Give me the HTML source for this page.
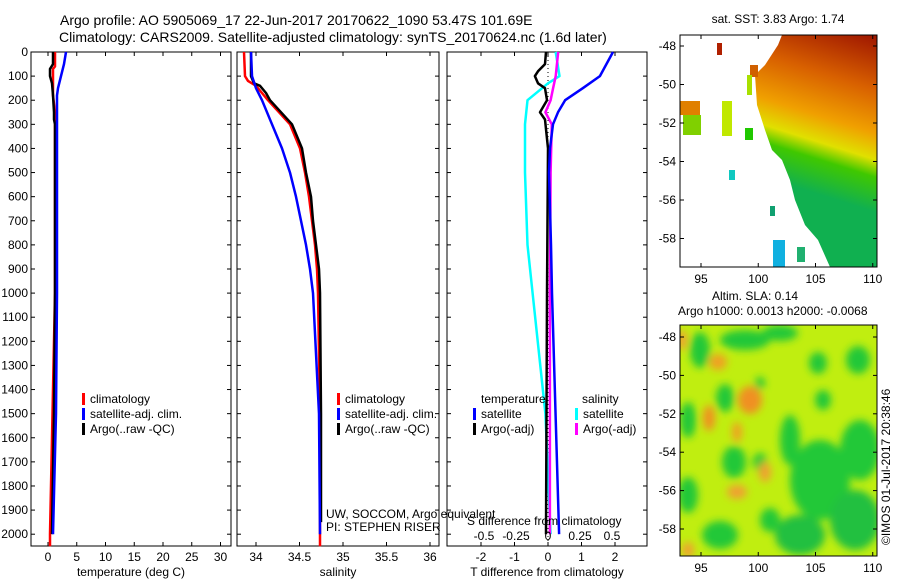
<!DOCTYPE html>
<html><head><meta charset="utf-8">
<style>
html,body{margin:0;padding:0;background:#fff;}
svg{display:block;font-family:"Liberation Sans",Helvetica,Arial,sans-serif;}
text{fill:#000;}
</style></head>
<body>
<svg id="chart" width="900" height="580" viewBox="0 0 900 580" xmlns="http://www.w3.org/2000/svg">
<defs>
  <linearGradient id="sstGrad" gradientUnits="userSpaceOnUse" x1="870" y1="35" x2="820" y2="195">
    <stop offset="0" stop-color="#a01800"/>
    <stop offset="0.3" stop-color="#d86000"/>
    <stop offset="0.55" stop-color="#f0a000"/>
    <stop offset="0.7" stop-color="#e0e000"/>
    <stop offset="0.8" stop-color="#40c800"/>
    <stop offset="1" stop-color="#10b050"/>
  </linearGradient>
  <clipPath id="topClip"><rect x="680" y="35" width="197" height="232"/></clipPath>
  <clipPath id="botClip"><rect x="680" y="325" width="197" height="231"/></clipPath>
  <filter id="blur" x="-20%" y="-20%" width="140%" height="140%"><feGaussianBlur stdDeviation="4"/></filter>
</defs>
<g id="title">
  <text x="60" y="25" font-size="14">Argo profile: AO 5905069_17 22-Jun-2017 20170622_1090 53.47S 101.69E</text>
  <text x="59" y="42" font-size="14">Climatology: CARS2009. Satellite-adjusted climatology: synTS_20170624.nc (1.6d later)</text>
</g>
<g id="panels"></g>
<g id="maps">
  <g>
    <text x="778" y="23" font-size="12" text-anchor="middle">sat. SST: 3.83  Argo: 1.74</text>
    <g clip-path="url(#topClip)">
      <polygon points="782,35 877,35 877,267 830,267 818,240 805,225 795,200 790,180 782,160 772,150 765,130 757,105 755,75 765,65 778,45" fill="url(#sstGrad)"/>
      <rect x="717" y="43" width="5" height="12" fill="#b02000"/>
      <rect x="680" y="101" width="20" height="14" fill="#e08000"/>
      <rect x="683" y="115" width="18" height="20" fill="#80d000"/>
      <rect x="722" y="101" width="10" height="35" fill="#c0e800"/>
      <rect x="745" y="128" width="8" height="12" fill="#20c800"/>
      <rect x="729" y="170" width="6" height="10" fill="#10c8c0"/>
      <rect x="773" y="240" width="12" height="27" fill="#10b0e0"/>
      <rect x="797" y="247" width="8" height="15" fill="#20b070"/>
      <rect x="770" y="206" width="5" height="10" fill="#10a070"/>
      <rect x="750" y="65" width="8" height="12" fill="#d06000"/>
      <rect x="747" y="75" width="5" height="20" fill="#a8e000"/>
    </g>
    <rect x="680" y="35" width="197" height="232" fill="none" stroke="#000" stroke-width="1"/>
    <g id="topAxis"></g>
  </g>
  <text x="712" y="300" font-size="12">Altim. SLA: 0.14</text>
  <text x="678" y="315" font-size="12">Argo h1000: 0.0013 h2000: -0.0068</text>
  <g>
    <g clip-path="url(#botClip)">
      <rect x="680" y="325" width="197" height="231" fill="#c0ee10"/>
      <g filter="url(#blur)">
        <ellipse cx="820" cy="480" rx="30" ry="40" fill="#20c838"/>
        <ellipse cx="860" cy="450" rx="20" ry="30" fill="#20c838"/>
        <ellipse cx="855" cy="520" rx="25" ry="30" fill="#20c040"/>
        <ellipse cx="800" cy="535" rx="25" ry="20" fill="#20c040"/>
        <ellipse cx="790" cy="440" rx="10" ry="25" fill="#20c838"/>
        <ellipse cx="700" cy="350" rx="10" ry="18" fill="#20c838"/>
        <ellipse cx="745" cy="340" rx="25" ry="10" fill="#20c838"/>
        <ellipse cx="780" cy="333" rx="18" ry="8" fill="#20c838"/>
        <ellipse cx="818" cy="363" rx="9" ry="11" fill="#20c838"/>
        <ellipse cx="858" cy="360" rx="12" ry="14" fill="#20c838"/>
        <ellipse cx="725" cy="398" rx="9" ry="14" fill="#20c838"/>
        <ellipse cx="760" cy="383" rx="5" ry="6" fill="#20c838"/>
        <ellipse cx="823" cy="400" rx="8" ry="10" fill="#20c838"/>
        <ellipse cx="734" cy="462" rx="12" ry="16" fill="#20c838"/>
        <ellipse cx="688" cy="420" rx="8" ry="18" fill="#20c838"/>
        <ellipse cx="688" cy="495" rx="10" ry="18" fill="#20c838"/>
        <ellipse cx="720" cy="535" rx="18" ry="14" fill="#20c838"/>
        <ellipse cx="760" cy="462" rx="7" ry="9" fill="#20c838"/>
        <ellipse cx="770" cy="520" rx="10" ry="12" fill="#20c838"/>
        <ellipse cx="718" cy="362" rx="9" ry="8" fill="#f0a020"/>
        <ellipse cx="750" cy="400" rx="12" ry="14" fill="#f09020"/>
        <ellipse cx="709" cy="418" rx="6" ry="13" fill="#f09020"/>
        <ellipse cx="737" cy="432" rx="5" ry="10" fill="#f0a020"/>
        <ellipse cx="765" cy="472" rx="6" ry="10" fill="#f0a030"/>
        <ellipse cx="737" cy="492" rx="10" ry="7" fill="#f0a030"/>
        <ellipse cx="688" cy="550" rx="6" ry="8" fill="#f0a030"/>
        <ellipse cx="682" cy="340" rx="5" ry="10" fill="#f0a030"/>
      </g>
    </g>
    <rect x="680" y="325" width="197" height="231" fill="none" stroke="#000" stroke-width="1"/>
    <g id="botAxis"></g>
  </g>
  <text transform="translate(890,545) rotate(-90)" font-size="12">©IMOS 01-Jul-2017 20:38:46</text>
</g>
</svg>
<script>
// ---- data ----
const depthTicks = [0,100,200,300,400,500,600,700,800,900,1000,1100,1200,1300,1400,1500,1600,1700,1800,1900,2000];
const tempTicks = [0,5,10,15,20,25,30];
const salTicks = [34,34.5,35,35.5,36];
const tdiffTicks = [-2,-1,0,1,2];
const sdiffTicks = [-0.5,-0.25,0,0.25,0.5];
const latTicks = [-48,-50,-52,-54,-56,-58];
const lonTicks = [95,100,105,110];

const tArgoDepth = [0,50,70,100,130,180,250,280,300,500,1000,1500,2000];
const tArgoVal   = [0.87,0.87,0.35,0.35,0.7,0.87,1.04,1.04,1.22,1.22,1.22,1.04,0.7];
const tClimDepth = [0,60,70,180,250,500,1000,2000,2050];
const tClimVal   = [1.22,1.22,0.87,0.87,1.22,1.22,1.22,0.35,0.35];
const tSatDepth  = [0,50,100,150,180,300,1000,1500,2000];
const tSatVal    = [3.13,2.78,2.26,1.74,1.57,1.57,1.57,1.39,0.87];

const sClimDepth = [0,100,120,140,200,300,400,500,600,700,800,900,1000,1500,2000,2050];
const sClimVal   = [33.862,33.874,33.908,34,34.138,34.391,34.506,34.563,34.609,34.644,34.678,34.701,34.713,34.736,34.736,34.736];
const sArgoDepth = [0,100,130,140,170,200,300,400,500,600,700,800,900,1000,1500,1950];
const sArgoVal   = [33.943,33.943,33.977,34.046,34.115,34.161,34.414,34.529,34.575,34.632,34.655,34.69,34.724,34.736,34.747,34.747];
const sSatDepth  = [0,100,150,200,300,400,500,600,700,800,900,1000,1500,2000];
const sSatVal    = [33.943,33.954,34,34.069,34.184,34.299,34.391,34.46,34.517,34.575,34.621,34.655,34.724,34.736];

const dTSatDepth = [0,100,150,200,250,300,400,500,800,1000,2000];
const dTSatVal   = [1.94,1.55,1.04,0.51,0.3,0.15,0.06,0.03,0.09,0.12,0.33];
const dTArgoDepth= [0,50,80,100,130,150,200,250,280,400,1000,2000];
const dTArgoVal  = [-0.06,-0.09,-0.3,-0.39,-0.3,-0.09,-0.03,-0.24,-0.09,0,-0.03,-0.06];
const dSSatDepth = [0,100,130,200,300,500,800,1000,1500,2000];
const dSSatVal   = [0.06,0.09,0,-0.16,-0.18,-0.18,-0.16,-0.12,-0.02,0.02];
const dSArgoDepth= [0,100,150,200,250,300,500,1000,2000];
const dSArgoVal  = [0.08,0.06,0.04,0.02,-0.02,0.03,0.02,0.015,0.015];

// ---- geometry ----
const NS='http://www.w3.org/2000/svg';
const top0=52, bot0=546;
const yD = d => 52 + d*0.2411;
const xT = v => 48 + v*5.75;
const xS = v => 256 + (v-34)*87;
const xDT = v => 548 + v*33.5;
const xDS = v => 548 + v*128;
function mk(tag, attrs, parent){const e=document.createElementNS(NS,tag);for(const k in attrs)e.setAttribute(k,attrs[k]);parent.appendChild(e);return e;}
const panels=document.getElementById('panels');

function panel(name,x0,x1,ticks,xf,labelFmt,title,showDepth){
  const g=mk('g',{},panels);
  
  
  mk('rect',{x:x0,y:top0,width:x1-x0,height:bot0-top0,fill:'none',stroke:'#000','stroke-width':1},g);
  ticks.forEach(t=>{const x=xf(t);
    mk('line',{x1:x,y1:bot0,x2:x,y2:bot0-4,stroke:'#000'},g);
    mk('line',{x1:x,y1:top0,x2:x,y2:top0+4,stroke:'#000'},g);
    const tx=mk('text',{x:x,y:bot0+15,'font-size':12,'text-anchor':'middle'},g);tx.textContent=labelFmt(t);
    
    
  });
  depthTicks.forEach(d=>{const y=yD(d);
    mk('line',{x1:x0,y1:y,x2:x0+4,y2:y,stroke:'#000'},g);
    mk('line',{x1:x1,y1:y,x2:x1-4,y2:y,stroke:'#000'},g);
    if(showDepth){const t=mk('text',{x:x0-3,y:y+4,'font-size':12,'text-anchor':'end'},g);t.textContent=d;
      
      }
  });
  const tt=mk('text',{x:(x0+x1)/2,y:576,'font-size':12,'text-anchor':'middle'},g);tt.textContent=title;
  
  
  return g;
}
function line(g,name,depths,vals,xf,color,w,dash){
  const pts=depths.map((d,i)=>xf(vals[i]).toFixed(1)+','+yD(d).toFixed(1)).join(' ');
  const p=mk('polyline',{points:pts,fill:'none',stroke:color,'stroke-width':w||2.5,'stroke-linejoin':'round'},g);
  if(dash)p.setAttribute('stroke-dasharray',dash);
  
  
}
function legend(g,x,y,color,label,name){
  mk('rect',{x:x,y:y-10,width:3,height:12,fill:color},g);
  const t=mk('text',{x:x+8,y:y,'font-size':12},g);t.textContent=label;
  
  
}

const p1=panel('temperature-panel',31,231,tempTicks,xT,v=>v,'temperature (deg C)',true);
line(p1,'temperature-climatology-line',tClimDepth,tClimVal,xT,'#ff0000');
line(p1,'temperature-argo-line',tArgoDepth,tArgoVal,xT,'#000000');
line(p1,'temperature-satellite-line',tSatDepth,tSatVal,xT,'#0000ff');
legend(p1,82,403,'#ff0000','climatology','legend-climatology');
legend(p1,82,418,'#0000ff','satellite-adj. clim.','legend-satellite');
legend(p1,82,433,'#000000','Argo(..raw -QC)','legend-argo');

const p2=panel('salinity-panel',237,439,salTicks,xS,v=>v,'salinity',false);
line(p2,'salinity-climatology-line',sClimDepth,sClimVal,xS,'#ff0000');
line(p2,'salinity-argo-line',sArgoDepth,sArgoVal,xS,'#000000');
line(p2,'salinity-satellite-line',sSatDepth,sSatVal,xS,'#0000ff');
legend(p2,337,403,'#ff0000','climatology','legend-climatology-2');
legend(p2,337,418,'#0000ff','satellite-adj. clim.','legend-satellite-2');
legend(p2,337,433,'#000000','Argo(..raw -QC)','legend-argo-2');
[['UW, SOCCOM, Argo equivalent',518],['PI: STEPHEN RISER',531]].forEach(([s,y])=>{const t=mk('text',{x:326,y:y,'font-size':12},p2);t.textContent=s;
  
  });

const p3=panel('difference-panel',447,647,tdiffTicks,xDT,v=>v,'T difference from climatology',false);
mk('line',{x1:548,y1:top0,x2:548,y2:bot0,stroke:'#000','stroke-width':1,'stroke-dasharray':'1,3'},p3);
line(p3,'s-diff-satellite-line',dSSatDepth,dSSatVal,xDS,'#00ffff');
line(p3,'s-diff-argo-line',dSArgoDepth,dSArgoVal,xDS,'#ff00ff');
line(p3,'t-diff-argo-line',dTArgoDepth,dTArgoVal,xDT,'#000000');
line(p3,'t-diff-satellite-line',dTSatDepth,dTSatVal,xDT,'#0000ff');
{const t=mk('text',{x:481,y:403,'font-size':12},p3);t.textContent='temperature';}
{const t=mk('text',{x:582,y:403,'font-size':12},p3);t.textContent='salinity';}
legend(p3,473,418,'#0000ff','satellite','legend-t-satellite');
legend(p3,473,433,'#000000','Argo(-adj)','legend-t-argo');
legend(p3,575,418,'#00ffff','satellite','legend-s-satellite');
legend(p3,575,433,'#ff00ff','Argo(-adj)','legend-s-argo');
{const t=mk('text',{x:467,y:525,'font-size':12},p3);t.textContent='S difference from climatology';}
sdiffTicks.forEach(v=>{const t=mk('text',{x:xDS(v),y:540,'font-size':12,'text-anchor':'middle'},p3);t.textContent=v;
  
  });

// map axes
const yLatTop = l => 46 + (-48-l)*19.25;
const yLatBot = l => 337 + (-48-l)*19.2;
const xLon = l => 701 + (l-95)*11.45;
function mapAxis(id,yf,yTop,yBot){
  const g=document.getElementById(id);
  latTicks.forEach(l=>{const y=yf(l);
    mk('line',{x1:680,y1:y,x2:684,y2:y,stroke:'#000'},g);
    mk('line',{x1:877,y1:y,x2:873,y2:y,stroke:'#000'},g);
    const t=mk('text',{x:676,y:y+4,'font-size':12,'text-anchor':'end'},g);t.textContent=l;
    
    });
  lonTicks.forEach(l=>{const x=xLon(l);
    mk('line',{x1:x,y1:yBot,x2:x,y2:yBot-4,stroke:'#000'},g);
    mk('line',{x1:x,y1:yTop,x2:x,y2:yTop+4,stroke:'#000'},g);
    const t=mk('text',{x:x,y:yBot+16,'font-size':12,'text-anchor':'middle'},g);t.textContent=l;
    
    });
}
mapAxis('topAxis',yLatTop,35,267);
mapAxis('botAxis',yLatBot,325,556);
</script>
</body></html>
